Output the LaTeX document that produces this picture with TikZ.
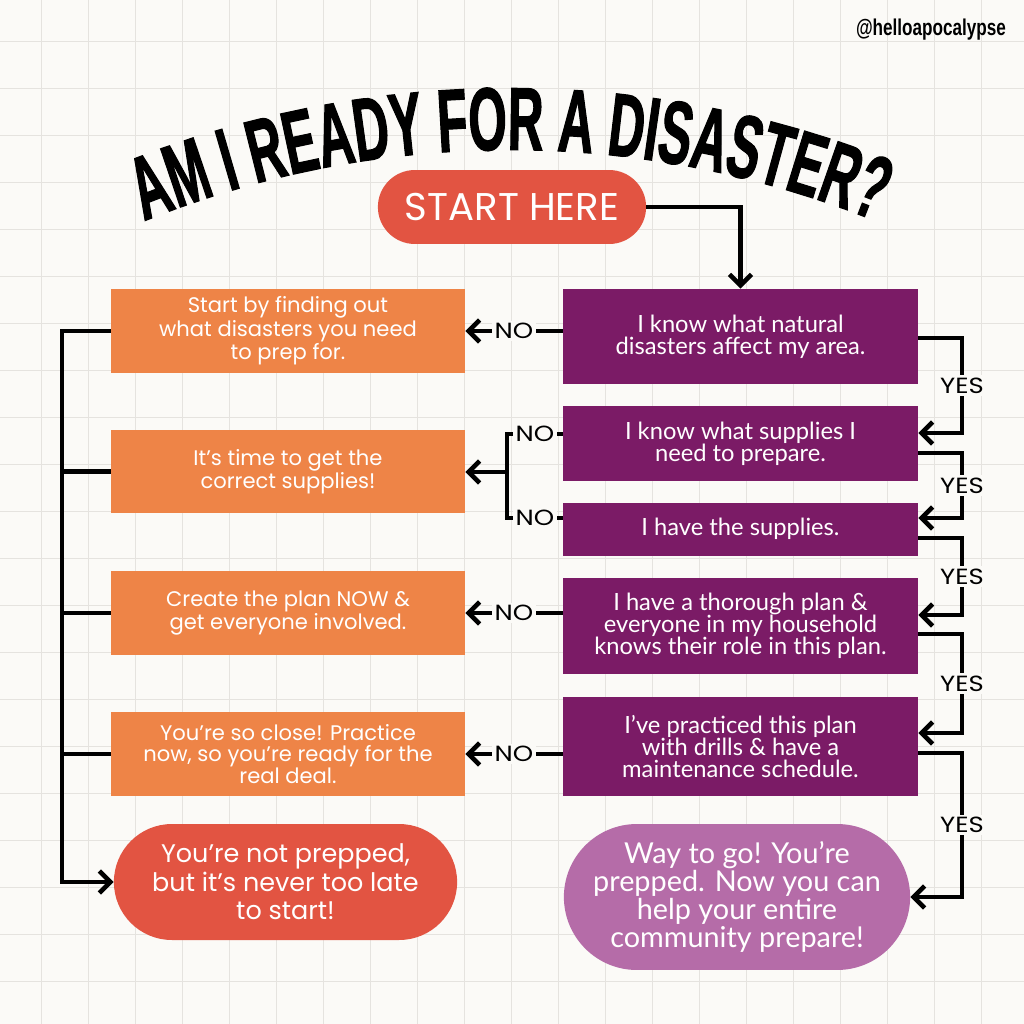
\documentclass[tikz,border=0pt]{standalone}
\usepackage{fontspec}
\setmainfont{Lato}
\newfontfamily\widefont{Poppins}
\newfontfamily\tagfont{Poppins}[FakeStretch=1.18]
\newfontfamily\titlefont{Liberation Sans}[FakeStretch=0.55,FakeBold=1.2]
\newfontfamily\handlefont{Liberation Sans}[FakeStretch=0.75]
\usetikzlibrary{arrows.meta,shapes.misc,decorations.text}
\definecolor{paper}{RGB}{251,250,247}
\definecolor{gridgray}{RGB}{229,227,223}
\definecolor{plum}{RGB}{123,27,102}
\definecolor{mauve}{RGB}{181,108,168}
\definecolor{tangerine}{RGB}{238,132,71}
\definecolor{tomato}{RGB}{226,84,66}
\tikzset{
  >={Straight Barb[length=2.2mm,width=4.4mm]},
  qbox/.style={fill=plum,text=white,minimum width=7.1cm,align=center,
    font=\fontsize{13.5}{12.6}\selectfont},
  abox/.style={fill=tangerine,text=white,minimum width=7.08cm,minimum height=1.68cm,
    align=center,font=\widefont\fontsize{12}{12}\selectfont},
  pill/.style={rounded rectangle,fill=#1,text=white,align=center},
  wire/.style={draw=black,line width=2.6pt},
  flow/.style={wire,->},
  tag/.style={fill=paper,inner sep=1.5pt,font=\tagfont\fontsize{12.5}{13}\selectfont},
  gridline/.style={draw=gridgray,line width=0.8pt},
}
\begin{document}
\begin{tikzpicture}[x=0.02cm,y=-0.02cm]
  \useasboundingbox (0,0) rectangle (1024,1024);
  \fill[paper] (0,0) rectangle (1024,1024);
  % squared paper
  \foreach \g in {0,...,20} {
    \draw[gridline] ({41.7+47*\g},0) -- ({41.7+47*\g},1024);
    \draw[gridline] (0,{41.7+47*\g}) -- (1024,{41.7+47*\g});
  }
  \node[font=\handlefont\bfseries\fontsize{13}{13}\selectfont] (handle) at (931,30) {@helloapocalypse};
  % arched title
  \path[decorate,decoration={text along path,text align=center,
      text={|\titlefont\bfseries\fontsize{51}{51}\selectfont|AM I READY FOR A DISASTER?}}]
    (97.9,241.3) .. controls (359.1,119.5) and (660.9,119.5) .. (922.1,241.3);

  \node[pill=tomato,minimum width=5.6cm,minimum height=1.48cm,
    font=\widefont\fontsize{22}{22}\selectfont] (start) at (512,207) {START HERE};

  % questions
  \node[qbox,minimum height=1.9cm] (p1) at (740.5,336.5) {I know what natural\\disasters affect my area.};
  \node[qbox,minimum height=1.5cm] (p2) at (740.5,443.5) {I know what supplies I\\need to prepare.};
  \node[qbox,minimum height=1.06cm] (p3) at (740.5,529) {I have the supplies.};
  \node[qbox,minimum height=1.94cm] (p4) at (740.5,626) {I have a thorough plan \&\\everyone in my household\\knows their role in this plan.};
  \node[qbox,minimum height=1.98cm] (p5) at (740.5,746.5) {I’ve practiced this plan\\with drills \& have a\\maintenance schedule.};
  \node[pill=mauve,minimum width=7.16cm,minimum height=2.92cm,
    font=\fontsize{16.4}{16}\selectfont] (win) at (737,897) {Way to go! You’re\\prepped. Now you can\\help your entire\\community prepare!};

  % advice
  \node[abox] (o1) at (288,331) {Start by finding out\\what disasters you need\\to prep for.};
  \node[abox] (o2) at (288,471.5) {It’s time to get the\\correct supplies!};
  \node[abox] (o3) at (288,613) {Create the plan NOW \&\\get everyone involved.};
  \node[abox] (o4) at (288,754) {You’re so close! Practice\\now, so you’re ready for the\\real deal.};
  \node[pill=tomato,minimum width=7.1cm,minimum height=2.32cm,
    font=\widefont\fontsize{14.5}{16.2}\selectfont] (lose) at (285.5,882) {You’re not prepped,\\but it’s never too late\\to start!};

  \draw[flow] (start.east) -| (p1.north);

  % NO branches
  \draw[flow] (p1.west |- o1.east) -- node[tag]{NO} (o1.east);
  \coordinate (fork) at (507,472);
  \draw[wire] (p2.west |- 0,434) -- node[tag]{NO} (fork |- 0,434) -- (fork |- 0,518) -- node[tag]{NO} (p3.west |- 0,518);
  \draw[flow] (fork) -- (o2.east |- fork);
  \draw[flow] (p4.west |- o3.east) -- node[tag]{NO} (o3.east);
  \draw[flow] (p5.west |- o4.east) -- node[tag]{NO} (o4.east);

  % YES branches
  \foreach \a/\ya/\b/\yb in {p1/338/p2/433,p2/453/p3/518,p3/538/p4/615,p4/634/p5/733}
    \draw[flow] (\a.east |- 0,\ya) -- (962,\ya) -- node[tag]{YES} (962,\yb) -- (\b.east |- 0,\yb);
  \draw[flow] (p5.east |- 0,753) -- (962,753) -- node[tag]{YES} (962,0 |- win.east) -- (win.east);

  % left collector
  \draw[flow] (o1.west) -- (62,0 |- o1.west) -- (62,0 |- lose.west) -- (lose.west);
  \foreach \b in {o2,o3,o4}
    \draw[wire] (\b.west) -- (62,0 |- \b.west);
\end{tikzpicture}
\end{document}
